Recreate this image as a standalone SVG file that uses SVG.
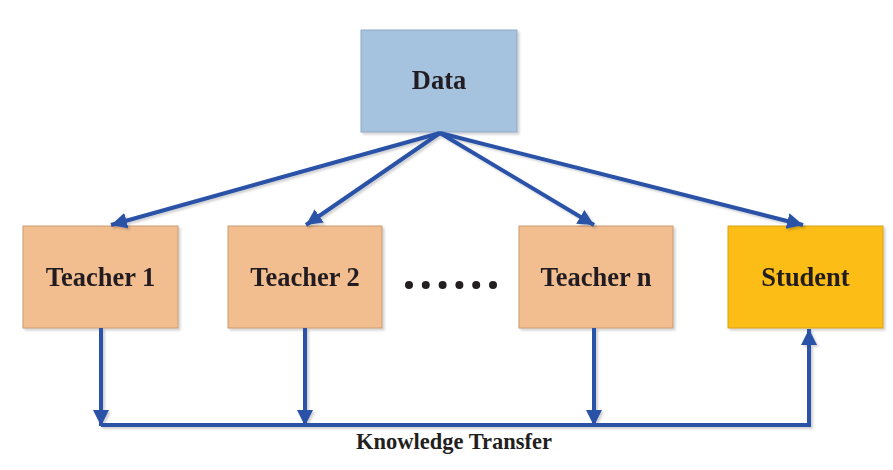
<svg xmlns="http://www.w3.org/2000/svg" width="893" height="470" viewBox="0 0 893 470">
<defs>
<style>
.lbl{font-family:"Liberation Serif","Times New Roman",serif;font-weight:bold;font-size:26.5px;fill:#231f20;text-anchor:middle}
.teacher{fill:#F2BE90;stroke:#C99A72;stroke-width:1}
.conn{stroke:#2A52A8;stroke-width:4;fill:none}
</style>
<marker id="ah" viewBox="0 0 10 10" refX="10" refY="5" markerWidth="4" markerHeight="4" markerUnits="strokeWidth" orient="auto">
<path d="M0,0 L10,5 L0,10 Z" fill="#2A52A8"/>
</marker>
<filter id="sh" x="-10%" y="-10%" width="130%" height="130%">
<feDropShadow dx="2" dy="2" stdDeviation="1" flood-color="#000" flood-opacity="0.18"/>
</filter>
</defs>
<g id="data" filter="url(#sh)">
<rect x="361" y="30" width="156" height="102" fill="#A5C2DE" stroke="#92AAC6" stroke-width="1"/>
<text class="lbl" x="439" y="89">Data</text>
</g>
<g id="teacher1" filter="url(#sh)">
<rect class="teacher" x="23" y="226" width="155" height="102"/>
<text class="lbl" x="100.5" y="286">Teacher 1</text>
</g>
<g id="teacher2" filter="url(#sh)">
<rect class="teacher" x="228" y="226" width="154" height="102"/>
<text class="lbl" x="305" y="286">Teacher 2</text>
</g>
<g id="dots" fill="#231f20">
<circle cx="409" cy="285" r="4"/>
<circle cx="425.8" cy="285" r="4"/>
<circle cx="442.6" cy="285" r="4"/>
<circle cx="459.4" cy="285" r="4"/>
<circle cx="476.2" cy="285" r="4"/>
<circle cx="493" cy="285" r="4"/>
</g>
<g id="teachern" filter="url(#sh)">
<rect class="teacher" x="519" y="226" width="154" height="102"/>
<text class="lbl" x="596" y="286">Teacher n</text>
</g>
<g id="student" filter="url(#sh)">
<rect x="728" y="226" width="155" height="102" fill="#FBBD14" stroke="#D8A21A" stroke-width="1"/>
<text class="lbl" x="805.5" y="286">Student</text>
</g>
<g id="connectors" filter="url(#sh)">
<line class="conn" x1="440" y1="133" x2="111" y2="225" marker-end="url(#ah)"/>
<line class="conn" x1="440" y1="133" x2="306" y2="225" marker-end="url(#ah)"/>
<line class="conn" x1="440" y1="133" x2="594" y2="225" marker-end="url(#ah)"/>
<line class="conn" x1="440" y1="133" x2="803" y2="225" marker-end="url(#ah)"/>
<line class="conn" x1="101" y1="328" x2="101" y2="426" marker-end="url(#ah)"/>
<line class="conn" x1="305" y1="328" x2="305" y2="426" marker-end="url(#ah)"/>
<line class="conn" x1="594" y1="328" x2="594" y2="426" marker-end="url(#ah)"/>
<polyline class="conn" points="101,425 809,425 809,329" marker-end="url(#ah)"/>
</g>
<text x="454" y="449" font-family="'Liberation Serif','Times New Roman',serif" font-weight="bold" font-size="22.5" fill="#231f20" text-anchor="middle">Knowledge Transfer</text>
</svg>
